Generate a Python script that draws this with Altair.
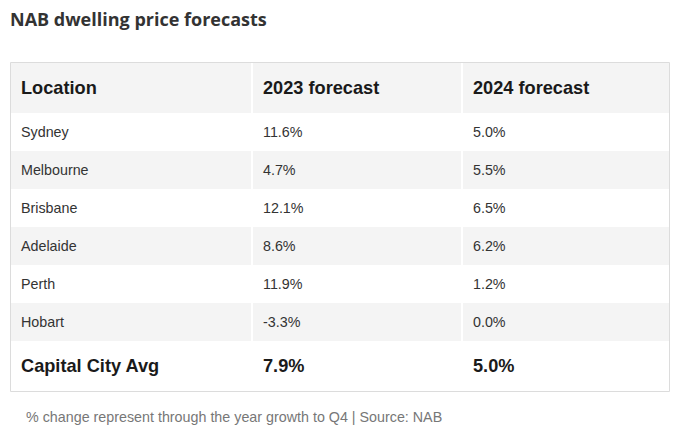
import altair as alt
import pandas as pd

title_text = "NAB dwelling price forecasts"
caption_text = "% change represent through the year growth to Q4 | Source: NAB"
headers = ["Location", "2023 forecast", "2024 forecast"]
locations = ["Sydney", "Melbourne", "Brisbane", "Adelaide", "Perth", "Hobart"]
f2023 = ["11.6%", "4.7%", "12.1%", "8.6%", "11.9%", "-3.3%"]
f2024 = ["5.0%", "5.5%", "6.5%", "6.2%", "1.2%", "0.0%"]
avg_label = "Capital City Avg"
avg_2023 = "7.9%"
avg_2024 = "5.0%"

W, H = 672, 425
# layout (chart pixel coordinates)
col_x0 = [3, 245, 455]
col_x1 = [243, 453, 661]
text_pad = 10
top = 54
header_h = 51
row_h = 38
footer_h = 50

rows = [("header", headers)]
for i, loc in enumerate(locations):
    rows.append(("body", [loc, f2023[i], f2024[i]]))
rows.append(("footer", [avg_label, avg_2023, avg_2024]))

cells, texts = [], []
y = top
for ri, (kind, vals) in enumerate(rows):
    h = header_h if kind == "header" else (footer_h if kind == "footer" else row_h)
    gray = kind == "header" or (kind == "body" and ri % 2 == 0)
    for ci, v in enumerate(vals):
        if gray:
            cells.append({"x": col_x0[ci], "x2": col_x1[ci], "y": y, "y2": y + h})
        texts.append({"x": col_x0[ci] + text_pad, "y": y + h / 2 + 1, "t": v, "kind": kind})
    y += h
bottom = y

cells_df = pd.DataFrame(cells)
text_df = pd.DataFrame(texts)

xs = alt.Scale(domain=[0, W], range=[0, W])
ys = alt.Scale(domain=[0, H], range=[0, H])

bg = alt.Chart(cells_df).mark_rect(color="#f4f4f4").encode(
    x=alt.X("x:Q", scale=xs, axis=None), x2="x2:Q",
    y=alt.Y("y:Q", scale=ys, axis=None), y2="y2:Q")

border = alt.Chart(pd.DataFrame([{"x": 2.5, "x2": 661.5, "y": top + 0.5, "y2": bottom + 0.5}])).mark_rect(
    fill=None, stroke="#dcdcdc", strokeWidth=1).encode(
    x=alt.X("x:Q", scale=xs, axis=None), x2="x2:Q",
    y=alt.Y("y:Q", scale=ys, axis=None), y2="y2:Q")

def text_layer(kind, size, weight, color):
    return alt.Chart(text_df[text_df.kind == kind]).mark_text(
        align="left", baseline="middle", font="Liberation Sans", fontSize=size,
        fontWeight=weight, color=color).encode(
        x=alt.X("x:Q", scale=xs, axis=None),
        y=alt.Y("y:Q", scale=ys, axis=None), text="t:N")

hdr = text_layer("header", 18.2, "bold", "#1a1a1a")
body = text_layer("body", 14.3, "normal", "#333333")
foot = text_layer("footer", 18.2, "bold", "#1a1a1a")

title = alt.Chart(pd.DataFrame([{"x": 2, "y": 13, "t": title_text}])).mark_text(
    align="left", baseline="middle", font="Open Sans", fontSize=18, fontWeight="bold",
    color="#333333").encode(
    x=alt.X("x:Q", scale=xs, axis=None), y=alt.Y("y:Q", scale=ys, axis=None), text="t:N")

caption = alt.Chart(pd.DataFrame([{"x": 18, "y": 410, "t": caption_text}])).mark_text(
    align="left", baseline="middle", font="Liberation Sans", fontSize=14.3,
    color="#777777").encode(
    x=alt.X("x:Q", scale=xs, axis=None), y=alt.Y("y:Q", scale=ys, axis=None), text="t:N")

chart = alt.layer(bg, border, hdr, body, foot, title, caption).properties(
    width=W, height=H, autosize=alt.AutoSizeParams(type="none"), padding=0
).configure_view(stroke=None)

chart.save("out.html", embed_options={"renderer": "svg", "actions": False})
